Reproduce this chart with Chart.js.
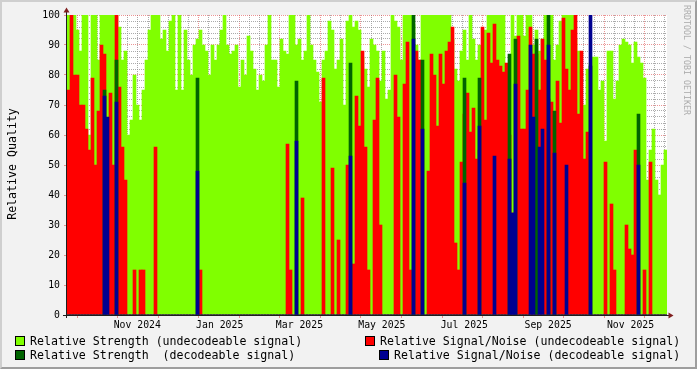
<!DOCTYPE html>
<html>
<head>
<meta charset="utf-8">
<script src="https://cdn.jsdelivr.net/npm/chart.js@4.4.0/dist/chart.umd.min.js"></script>
<style>
body { margin: 0; background: #f2f2f2; }
#wrap { position: relative; width: 697px; height: 369px; background: #f2f2f2; overflow: hidden; font-family: "DejaVu Sans Mono", monospace; color: #000; }
#chart { position: absolute; left: 0; top: 0; }
#frame { position: absolute; left: 0; top: 0; width: 697px; height: 369px; box-sizing: border-box;
  border-top: 2px solid #cfcfcf; border-left: 2px solid #cfcfcf; border-right: 2px solid #9e9e9e; border-bottom: 2px solid #9e9e9e; pointer-events: none; }
.ytitle { position: absolute; left: 12px; top: 164px; transform: translate(-50%, -50%) rotate(-90deg); font-size: 11.6px; white-space: pre; }
.mark { position: absolute; left: 692px; top: 5px; transform-origin: 0 0; transform: rotate(90deg); font-size: 8.3px; line-height: 10px; color: #acacac; white-space: pre; }
.lg { position: absolute; font-size: 11.6px; line-height: 12px; white-space: pre; }
.sw { position: absolute; width: 10px; height: 10px; box-sizing: border-box; border: 1px solid #000; }
</style>
</head>
<body>
<div id="wrap">
  <canvas id="chart" width="697" height="369"></canvas>
  <div class="ytitle">Relative Quality</div>
  <div class="mark">RRDTOOL / TOBI OETIKER</div>
  <div class="sw" style="left:15px;top:336px;background:#80ff00"></div>
  <div class="lg" style="left:30px;top:335px">Relative Strength (undecodeable signal)</div>
  <div class="sw" style="left:365px;top:336px;background:#ff0000"></div>
  <div class="lg" style="left:380px;top:335px">Relative Signal/Noise (undecodeable signal)</div>
  <div class="sw" style="left:15px;top:350px;background:#006400"></div>
  <div class="lg" style="left:30px;top:349px">Relative Strength  (decodeable signal)</div>
  <div class="sw" style="left:379px;top:350px;background:#000090"></div>
  <div class="lg" style="left:394px;top:349px">Relative Signal/Noise (decodeable signal)</div>
  <div id="frame"></div>
</div>
<script>
// Zeitraum: 200 Balken, jeder ~2.2 Tage
const startDate = Date.UTC(2024, 8, 10);
const dayCount = 444;
const binCount = 200;
const binDays = dayCount / binCount;

// Monatsbeschriftungen der x-Achse
const xLabels = ['Nov 2024', 'Jan 2025', 'Mar 2025', 'May 2025', 'Jul 2025', 'Sep 2025', 'Nov 2025'];
const xLabelDates = ['2024-11-01', '2025-01-01', '2025-03-01', '2025-05-01', '2025-07-01', '2025-09-01', '2025-11-01'];

// Relative Strength (undecodeable signal)
const strengthUndec = [
  100,100,100,95,88,100,100,60,100,100, 85,100,100,100,100,100,100,96,85,88,
  60,65,80,70,65,75,85,95,100,100, 100,92,95,88,98,100,75,100,75,95,
  85,80,90,92,95,90,88,80,90,85, 90,95,100,90,87,88,90,76,85,80,
  93,88,82,75,80,78,90,100,85,85, 76,92,88,87,100,100,90,92,85,88,
  100,90,85,81,71,85,88,98,95,82, 85,92,70,98,100,96,98,95,86,82,
  76,92,90,88,78,88,72,75,100,98, 96,85,100,100,100,97,90,85,100,100,
  100,100,100,100,100,100,100,100,92,82, 78,88,95,85,100,92,85,90,80,95,
  100,100,100,100,100,100,75,78,100,93, 100,100,93,100,100,90,95,88,92,100,
  100,100,85,90,98,100,100,100,100,92, 88,62,70,82,84,86,86,75,78,58,
  88,88,72,78,90,92,91,90,84,91, 86,84,79,45,55,62,45,40,50,55
];

// Relative Signal/Noise (undecodeable signal)
const snrUndec = [
  75,100,80,80,70,70,62,55,79,50, 68,90,87,55,74,50,100,76,56,45,
  0,0,15,0,15,15,0,0,0,56, 0,0,0,0,0,0,0,0,0,0,
  0,0,0,0,15,0,0,0,0,0, 0,0,0,0,0,0,0,0,0,0,
  0,0,0,0,0,0,0,0,0,0, 0,0,0,57,15,0,0,0,39,0,
  0,0,0,0,0,79,0,0,49,0, 25,0,0,50,0,17,73,63,88,56,
  15,0,65,79,30,0,0,0,0,80, 66,0,77,91,15,0,88,85,0,0,
  48,87,80,63,87,77,88,91,96,24, 15,51,67,74,61,69,52,55,96,65,
  94,84,97,85,83,81,84,60,34,32, 93,62,62,75,96,87,87,75,92,85,
  72,71,58,78,64,99,82,75,95,100, 67,88,52,61,0,0,0,0,0,51,
  0,37,15,0,0,0,30,22,20,55, 0,0,15,0,51,0,0,0,0,0
];

// Relative Strength (decodeable signal)
const strengthDec = [
  0,0,0,0,0,0,0,0,0,0, 0,0,75,0,0,0,85,0,0,0,
  0,0,0,0,0,0,0,0,0,0, 0,0,0,0,0,0,0,0,0,0,
  0,0,0,79,0,0,0,0,0,0, 0,0,0,0,0,0,0,0,0,0,
  0,0,0,0,0,0,0,0,0,0, 0,0,0,0,0,0,78,0,0,0,
  0,0,0,0,0,0,0,0,0,0, 0,0,0,0,84,0,0,0,0,0,
  0,0,0,0,0,0,0,0,0,0, 0,0,0,0,0,100,0,0,85,0,
  0,0,0,0,0,0,0,0,0,0, 0,0,79,0,0,0,0,79,0,0,
  0,0,0,0,0,0,0,87,0,92, 0,0,0,0,0,0,92,0,0,0,
  100,0,68,0,0,0,0,0,0,0, 0,0,0,0,83,0,0,0,0,0,
  0,0,0,0,0,0,0,0,0,0, 67,0,0,0,0,0,0,0,0,0
];

// Relative Signal/Noise (decodeable signal)
const snrDec = [
  0,0,0,0,0,0,0,0,0,0, 0,0,73,66,0,0,71,0,0,0,
  0,0,0,0,0,0,0,0,0,0, 0,0,0,0,0,0,0,0,0,0,
  0,0,0,48,0,0,0,0,0,0, 0,0,0,0,0,0,0,0,0,0,
  0,0,0,0,0,0,0,0,0,0, 0,0,0,0,0,0,58,0,0,0,
  0,0,0,0,0,0,0,0,0,0, 0,0,0,0,53,0,0,0,0,0,
  0,0,0,0,0,0,0,0,0,0, 0,0,0,0,0,92,0,0,62,0,
  0,0,0,0,0,0,0,0,0,0, 0,0,44,0,0,0,0,63,0,0,
  0,0,53,0,0,0,0,52,34,77, 0,0,0,0,90,66,0,56,62,0,
  90,0,54,0,0,0,50,0,0,0, 0,0,0,0,100,0,0,0,0,0,
  0,0,0,0,0,0,0,0,0,0, 50,0,0,0,0,0,0,0,0,0
];

const GRID = 'rgba(143,143,143,0.75)';
const MGRID = 'rgba(222,79,79,0.6)';
const monoFont = { family: 'DejaVu Sans Mono', size: 9.8 };

function dayOf(s) { return (Date.parse(s) - startDate) / 864e5; }

// Gitter: Hauptlinien alle 30 Tage, Nebenlinien alle 7.5 Tage
function buildXTicks() {
  let ticks = [];
  for (let d = 7.5; d < dayCount; d += 7.5) {
    ticks.push({ value: d, kind: (Math.round(d / 7.5) % 4 === 1) ? 'major' : 'minor' });
  }
  xLabelDates.forEach((s, i) => ticks.push({ value: dayOf(s), kind: 'label', text: xLabels[i] }));
  return ticks.sort((a, b) => a.value - b.value);
}

function toPoints(vals) {
  return vals.map((v, i) => ({ x: (i + 0.5) * binDays, y: v }));
}

const backdrop = {
  id: 'backdrop',
  beforeDraw(chart) {
    const { ctx, chartArea: a } = chart;
    ctx.save();
    ctx.fillStyle = '#f2f2f2';
    ctx.fillRect(0, 0, chart.width, chart.height);
    ctx.fillStyle = '#ffffff';
    ctx.fillRect(a.left, a.top, a.right - a.left, a.bottom - a.top);
    ctx.restore();
  },
  afterDraw(chart) {
    const { ctx, chartArea: a } = chart;
    ctx.save();
    ctx.strokeStyle = '#1f1f1f';
    ctx.lineWidth = 1;
    ctx.beginPath();
    ctx.moveTo(a.left - 0.5, a.bottom + 3);
    ctx.lineTo(a.left - 0.5, a.top - 3);
    ctx.moveTo(a.left - 4, a.bottom + 0.5);
    ctx.lineTo(a.right + 2, a.bottom + 0.5);
    ctx.stroke();
    ctx.fillStyle = '#801f1f';
    ctx.beginPath();
    ctx.moveTo(a.right + 1.5, a.bottom - 2.5);
    ctx.lineTo(a.right + 1.5, a.bottom + 3.5);
    ctx.lineTo(a.right + 6.5, a.bottom + 0.5);
    ctx.closePath();
    ctx.fill();
    ctx.beginPath();
    ctx.moveTo(a.left - 3.5, a.top - 2.5);
    ctx.lineTo(a.left + 2.5, a.top - 2.5);
    ctx.lineTo(a.left - 0.5, a.top - 7.5);
    ctx.closePath();
    ctx.fill();
    ctx.restore();
  }
};

const ctx = document.getElementById('chart').getContext('2d');
new Chart(ctx, {
  type: 'bar',
  data: {
    datasets: [
      { label: 'Relative Strength (undecodeable signal)', data: toPoints(strengthUndec), backgroundColor: '#80ff00', order: 4 },
      { label: 'Relative Signal/Noise (undecodeable signal)', data: toPoints(snrUndec), backgroundColor: '#ff0000', order: 3 },
      { label: 'Relative Strength  (decodeable signal)', data: toPoints(strengthDec), backgroundColor: '#006400', order: 2 },
      { label: 'Relative Signal/Noise (decodeable signal)', data: toPoints(snrDec), backgroundColor: '#000090', order: 1 }
    ]
  },
  options: {
    responsive: false,
    animation: false,
    layout: { padding: { left: 0, right: 30, top: 15, bottom: 0 } },
    plugins: { legend: { display: false }, tooltip: { enabled: false } },
    datasets: { bar: { barThickness: 600 / binCount, grouped: false, borderWidth: 0 } },
    scales: {
      x: {
        type: 'linear',
        min: 0,
        max: dayCount,
        offset: false,
        z: 1,
        afterFit(scale) { scale.height = 54; },
        afterBuildTicks(scale) { scale.ticks = buildXTicks(); },
        ticks: {
          autoSkip: false,
          maxRotation: 0,
          padding: 2,
          color: '#000',
          font: monoFont,
          callback: function(value, index, ticks) { return ticks[index].kind === 'label' ? ticks[index].text : ''; }
        },
        grid: {
          offset: false,
          tickLength: 3,
          color: (c) => c.tick && c.tick.kind === 'major' ? MGRID : (c.tick && c.tick.kind === 'minor' ? GRID : 'rgba(0,0,0,0)'),
          tickColor: (c) => c.tick && c.tick.kind === 'major' ? MGRID : 'rgba(0,0,0,0)'
        },
        border: { display: false, dash: [1, 1] }
      },
      y: {
        min: 0,
        max: 100,
        z: 1,
        afterFit(scale) { scale.width = 67; },
        afterBuildTicks(scale) {
          let t = [];
          for (let v = 0; v <= 100; v += 2) t.push({ value: v });
          scale.ticks = t;
        },
        ticks: {
          autoSkip: false,
          padding: 4,
          color: '#000',
          font: monoFont,
          callback: (v) => v % 10 === 0 ? String(v) : ''
        },
        grid: {
          tickLength: 3,
          color: (c) => c.tick && c.tick.value % 10 === 0 ? MGRID : GRID,
          tickColor: (c) => c.tick && c.tick.value % 10 === 0 ? MGRID : 'rgba(0,0,0,0)'
        },
        border: { display: false, dash: [1, 1] }
      }
    }
  },
  plugins: [backdrop]
});
</script>
</body>
</html>
